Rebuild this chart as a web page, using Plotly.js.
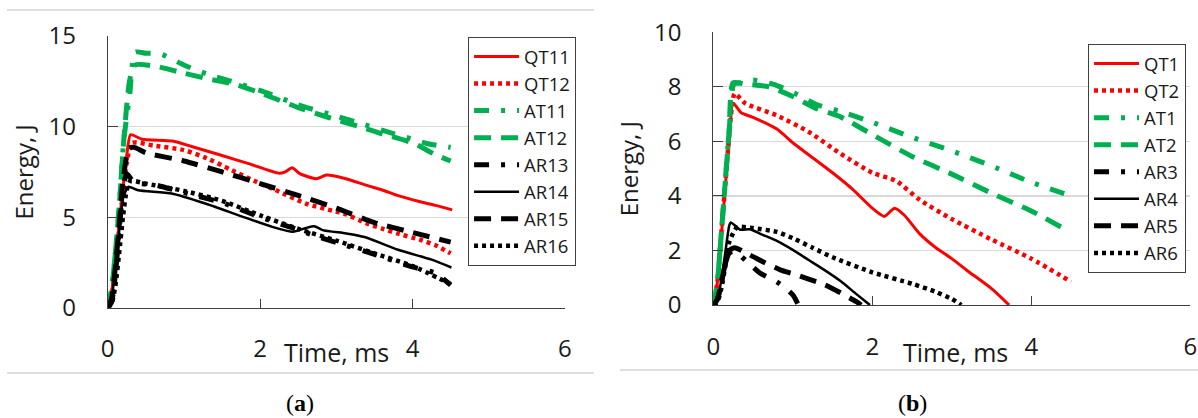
<!DOCTYPE html>
<html>
<head>
<meta charset="utf-8">
<script src="https://cdn.plot.ly/plotly-3.0.1.min.js"></script>
<style>html,body{margin:0;padding:0;background:#fff;}#chart{width:1198px;height:418px;}</style>
</head>
<body>
<div id="chart"></div>
<script>
// ---------- Panel (a) data: time (ms) and energy (J) ----------
const tQT11 = [0,0.05,0.1,0.15,0.2,0.25,0.3,0.45,0.85,1.1,1.5,1.85,2.25,2.33,2.42,2.52,2.74,2.87,3.1,3.4,3.6,3.8,4.1,4.3,4.52];
const eQT11 = [0,0.8,2.6,4.6,6.6,8.4,9.55,9.3,9.2,8.9,8.4,7.95,7.42,7.5,7.72,7.4,7.12,7.32,7.15,6.75,6.5,6.2,5.85,5.65,5.4];
const tQT12 = [0,0.05,0.1,0.15,0.2,0.25,0.32,0.6,1.0,1.3,1.6,1.95,2.2,2.6,2.95,3.1,3.4,3.6,3.8,4.1,4.3,4.5];
const eQT12 = [0,0.6,2.3,4.3,6.3,8.0,9.1,8.95,8.7,8.25,7.65,6.95,6.5,5.75,5.35,5.2,4.65,4.37,4.1,3.75,3.45,3.0];
const tAT11 = [0,0.05,0.1,0.15,0.21,0.29,0.36,0.5,0.7,1.0,1.3,1.7,2.1,2.5,2.9,3.3,3.6,4.0,4.2,4.5];
const eAT11 = [0,1,3,5.5,9.2,11.8,14.1,14.05,14.0,13.4,12.9,12.4,11.85,11.2,10.7,10.2,9.8,9.3,9.05,8.85];
const tAT12 = [0,0.05,0.1,0.15,0.21,0.29,0.36,0.6,1.0,1.3,1.7,2.1,2.5,2.9,3.3,3.6,4.0,4.3,4.5];
const eAT12 = [0,1,3,5.5,9.2,12.6,13.4,13.35,12.95,12.65,12.3,11.7,11.05,10.5,10.0,9.6,9.1,8.45,8.1];
const tAR13 = [0,0.05,0.1,0.15,0.2,0.25,0.35,0.6,1.0,1.5,2.0,2.5,2.7,3.0,3.5,4.0,4.3,4.5];
const eAR13 = [0,0.3,1.8,4.2,6.5,7.4,6.9,6.8,6.35,5.8,5.0,4.3,4.0,3.6,2.95,2.25,1.9,1.25];
const tAR14 = [0,0.05,0.1,0.15,0.2,0.27,0.4,0.84,1.28,1.72,2.16,2.43,2.6,2.71,2.82,3.13,3.37,3.81,4.25,4.51];
const eAR14 = [0,0.5,2.2,4.2,6.0,6.67,6.48,6.3,5.75,5.1,4.46,4.19,4.4,4.5,4.28,4.1,3.9,3.2,2.65,2.22];
const tAR15 = [0,0.05,0.1,0.15,0.2,0.28,0.35,0.5,1.0,1.5,2.0,2.5,3.0,3.5,4.0,4.5];
const eAR15 = [0,0.5,2.2,4.5,7.0,8.8,8.85,8.55,8.1,7.5,6.85,6.2,5.5,4.7,4.15,3.62];
const tAR16 = [0,0.05,0.1,0.15,0.2,0.25,0.3,0.5,1.0,1.5,2.0,2.5,3.0,3.5,4.0,4.5];
const eAR16 = [0,0.2,1.2,3.0,5.0,6.5,7.0,6.85,6.45,5.9,5.1,4.35,3.7,3.0,2.3,1.3];

// ---------- Panel (b) data ----------
const tQT1 = [0,0.05,0.1,0.15,0.2,0.25,0.35,0.5,0.8,1.0,1.25,1.5,1.75,2.0,2.15,2.28,2.4,2.6,2.8,3.0,3.2,3.5,3.72];
const eQT1 = [0,0.8,2.5,4.3,6.0,7.4,7.05,6.88,6.45,5.95,5.4,4.85,4.25,3.55,3.25,3.55,3.3,2.6,2.1,1.7,1.25,0.6,0];
const tQT2 = [0,0.05,0.1,0.15,0.2,0.27,0.4,0.8,1.2,1.6,2.0,2.3,2.6,3.0,3.5,4.0,4.5];
const eQT2 = [0,0.8,2.6,4.4,6.2,7.75,7.4,6.95,6.35,5.55,4.85,4.55,3.85,3.15,2.4,1.7,0.85];
const tAT1 = [0,0.05,0.1,0.15,0.2,0.26,0.35,0.5,0.75,1.0,1.3,1.6,2.0,2.5,3.0,3.5,4.0,4.5];
const eAT1 = [0,0.8,2.6,4.5,6.4,8.1,8.15,8.25,8.1,7.8,7.35,7.1,6.7,6.15,5.65,5.1,4.5,4.0];
const tAT2 = [0,0.05,0.1,0.15,0.2,0.25,0.4,0.7,1.0,1.3,1.6,2.0,2.5,3.0,3.5,4.0,4.38];
const eAT2 = [0,0.8,2.6,4.5,6.4,8.15,8.1,8.0,7.65,7.2,6.9,6.25,5.45,4.8,4.1,3.45,2.85];
const tAR3 = [0,0.05,0.1,0.15,0.2,0.27,0.42,0.6,0.8,1.0,1.07];
const eAR3 = [0,0.2,0.8,1.5,1.9,1.97,1.6,1.15,0.85,0.37,0];
const tAR4 = [0,0.05,0.1,0.15,0.2,0.22,0.34,0.46,0.6,0.8,1.0,1.2,1.4,1.6,1.8,1.97];
const eAR4 = [0,0.2,0.9,1.9,2.9,3.03,2.76,2.78,2.6,2.35,2.02,1.65,1.28,0.88,0.4,0];
const tAR5 = [0,0.05,0.1,0.15,0.2,0.27,0.45,0.65,0.85,1.0,1.2,1.4,1.6,1.8,1.86];
const eAR5 = [0,0.2,0.8,1.5,2.0,2.1,1.85,1.55,1.28,1.15,0.95,0.75,0.45,0.12,0];
const tAR6 = [0,0.05,0.1,0.15,0.2,0.3,0.5,0.8,1.0,1.25,1.5,2.0,2.5,2.8,3.0,3.12];
const eAR6 = [0,0.1,0.6,1.4,2.3,2.85,2.82,2.68,2.45,2.1,1.75,1.2,0.78,0.48,0.22,0];

const namesA = ['QT11','QT12','AT11','AT12','AR13','AR14','AR15','AR16'];
const namesB = ['QT1','QT2','AT1','AT2','AR3','AR4','AR5','AR6'];
const xTickVals = [0,2,4,6];
const xTitle = 'Time, ms';
const yTitle = 'Energy, J';

// ---------- styles ----------
const RED = '#ff0000', GREEN = '#00b050', BLACK = '#000000';
const LONGDASH = '17px,10px';
const LONGDASHDOT = '15px,12px,4px,12px';
const DOT = '4px,4px';
const styles = [
  {color: RED, width: 3, dash: 'solid'},
  {color: RED, width: 4.5, dash: DOT},
  {color: GREEN, width: 5, dash: LONGDASHDOT},
  {color: GREEN, width: 5, dash: LONGDASH},
  {color: BLACK, width: 5, dash: LONGDASHDOT},
  {color: BLACK, width: 2.5, dash: 'solid'},
  {color: BLACK, width: 5, dash: LONGDASH},
  {color: BLACK, width: 4.5, dash: DOT}
];

const seriesA = [[tQT11,eQT11],[tQT12,eQT12],[tAT11,eAT11],[tAT12,eAT12],[tAR13,eAR13],[tAR14,eAR14],[tAR15,eAR15],[tAR16,eAR16]];
const seriesB = [[tQT1,eQT1],[tQT2,eQT2],[tAT1,eAT1],[tAT2,eAT2],[tAR3,eAR3],[tAR4,eAR4],[tAR5,eAR5],[tAR6,eAR6]];

const traces = [];
seriesA.forEach((s, i) => traces.push({
  x: s[0], y: s[1], name: namesA[i], type: 'scatter', mode: 'lines',
  line: {color: styles[i].color, width: styles[i].width, dash: styles[i].dash, shape: 'spline', smoothing: 0.6},
  xaxis: 'x', yaxis: 'y', legend: 'legend', hoverinfo: 'skip'
}));
seriesB.forEach((s, i) => traces.push({
  x: s[0], y: s[1], name: namesB[i], type: 'scatter', mode: 'lines',
  line: {color: styles[i].color, width: styles[i].width, dash: styles[i].dash, shape: 'spline', smoothing: 0.6},
  xaxis: 'x2', yaxis: 'y2', legend: 'legend2', hoverinfo: 'skip'
}));

const FONT = 'Open Sans, Noto Sans, sans-serif';
const TXT = '#1a1a1a';
const AXC = '#404040';

function xAxis(domain, anchor) {
  return {
    domain: domain, anchor: anchor, range: [0, 6], tickvals: xTickVals,
    showgrid: false, zeroline: false, showline: true, linecolor: AXC, linewidth: 1,
    ticks: 'inside', ticklen: 9, tickcolor: AXC, tickwidth: 1,
    tickfont: {size: 24, color: TXT, family: FONT}, ticklabelstandoff: 20,
    fixedrange: true
  };
}
function yAxis(domain, anchor, maxV, step) {
  return {
    domain: domain, anchor: anchor, range: [0, maxV], dtick: step, tick0: 0,
    showgrid: true, gridcolor: '#d9d9d9', gridwidth: 1.2, zeroline: false,
    showline: true, linecolor: AXC, linewidth: 1,
    ticks: 'inside', ticklen: 10, tickcolor: AXC, tickwidth: 1,
    tickfont: {size: 24, color: TXT, family: FONT}, ticklabelstandoff: 26,
    title: {text: yTitle, font: {size: 24, color: TXT, family: FONT}, standoff: 8},
    fixedrange: true
  };
}
function legendBox(x, y) {
  return {
    x: x, y: y, xanchor: 'left', yanchor: 'top', xref: 'paper', yref: 'paper',
    bgcolor: '#ffffff', bordercolor: AXC, borderwidth: 1,
    font: {size: 18.5, color: TXT, family: FONT}, itemwidth: 45, tracegroupgap: 0
  };
}

const layout = {
  width: 1198, height: 418, autosize: false,
  margin: {l: 0, r: 0, t: 0, b: 0, pad: 0},
  paper_bgcolor: '#ffffff', plot_bgcolor: '#ffffff',
  font: {family: FONT, color: TXT},
  showlegend: true,
  xaxis: xAxis([0.0899, 0.4716], 'y'),
  yaxis: yAxis([0.2639, 0.9139], 'x', 15, 5),
  xaxis2: xAxis([0.5954, 0.9936], 'y2'),
  yaxis2: yAxis([0.2703, 0.9227], 'x2', 10, 2),
  legend: legendBox(0.3907, 0.9115),
  legend2: legendBox(0.9082, 0.8947),
  annotations: [
    {text: xTitle, xref: 'paper', yref: 'paper', x: 0.2813, y: 0.1579, xanchor: 'center', yanchor: 'middle', showarrow: false, font: {size: 25, color: TXT, family: FONT}},
    {text: xTitle, xref: 'paper', yref: 'paper', x: 0.7972, y: 0.1579, xanchor: 'center', yanchor: 'middle', showarrow: false, font: {size: 25, color: TXT, family: FONT}},
    {text: '(<b>a</b>)', xref: 'paper', yref: 'paper', x: 0.2504, y: 0.036, xanchor: 'center', yanchor: 'middle', showarrow: false, font: {size: 24, color: '#000', family: 'Liberation Serif, serif'}},
    {text: '(<b>b</b>)', xref: 'paper', yref: 'paper', x: 0.7613, y: 0.036, xanchor: 'center', yanchor: 'middle', showarrow: false, font: {size: 24, color: '#000', family: 'Liberation Serif, serif'}}
  ],
  shapes: [
    {type: 'line', xref: 'paper', yref: 'paper', x0: 0.0058, x1: 0.4958, y0: 0.9761, y1: 0.9761, line: {color: '#d4d4d4', width: 1.5}},
    {type: 'line', xref: 'paper', yref: 'paper', x0: 0.0058, x1: 0.4958, y0: 0.1077, y1: 0.1077, line: {color: '#d4d4d4', width: 1.5}},
    {type: 'line', xref: 'paper', yref: 'paper', x0: 0.5175, x1: 1.0, y0: 0.1148, y1: 0.1148, line: {color: '#d4d4d4', width: 1.5}}
  ]
};

Plotly.newPlot('chart', traces, layout, {displayModeBar: false, staticPlot: true});
</script>
</body>
</html>
